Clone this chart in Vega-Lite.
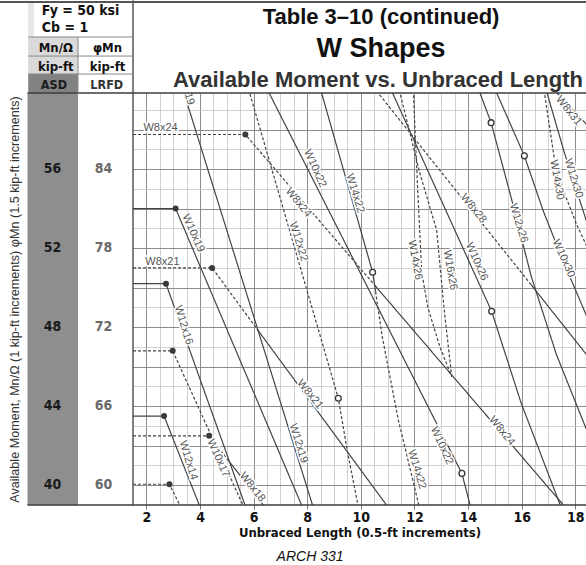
{
"$schema": "https://vega.github.io/schema/vega-lite/v6.json",
"width": 453,
"height": 412,
"autosize": {"type": "none"},
"padding": {"left": 133, "top": 93, "right": 0, "bottom": 60},
"background": "white",
"config": {"view": {"stroke": null}, "font": "Liberation Sans"},
"datasets": {
"curves": [
{"shape":"W12x19","part":"W12x19","rank":"lightest","L":3.0,"M":61.6},
{"shape":"W12x19","part":"W12x19","rank":"lightest","L":8.61,"M":37.2},
{"shape":"W10x19","part":"W10x19","rank":"lightest","L":1.5,"M":54.0},
{"shape":"W10x19","part":"W10x19","rank":"lightest","L":3.09,"M":54.0},
{"shape":"W10x19","part":"W10x19","rank":"lightest","L":8.1,"M":38.0},
{"shape":"W8x21","part":"W8x21 a","rank":"other","L":1.5,"M":51.0},
{"shape":"W8x21","part":"W8x21 a","rank":"other","L":4.45,"M":51.0},
{"shape":"W8x21","part":"W8x21 a","rank":"other","L":6.12,"M":47.92},
{"shape":"W8x21","part":"W8x21 b","rank":"lightest","L":6.12,"M":47.92},
{"shape":"W8x21","part":"W8x21 b","rank":"lightest","L":11.2,"M":38.55},
{"shape":"W12x16","part":"W12x16","rank":"lightest","L":1.5,"M":50.2},
{"shape":"W12x16","part":"W12x16","rank":"lightest","L":2.73,"M":50.2},
{"shape":"W12x16","part":"W12x16","rank":"lightest","L":5.9,"M":38.15},
{"shape":"W10x17","part":"W10x17","rank":"other","L":1.5,"M":46.8},
{"shape":"W10x17","part":"W10x17","rank":"other","L":2.98,"M":46.8},
{"shape":"W10x17","part":"W10x17","rank":"other","L":5.8,"M":38.4},
{"shape":"W8x18","part":"W8x18 a","rank":"other","L":1.5,"M":42.5},
{"shape":"W8x18","part":"W8x18 a","rank":"other","L":4.34,"M":42.5},
{"shape":"W8x18","part":"W8x18 a","rank":"other","L":5.05,"M":41.27},
{"shape":"W8x18","part":"W8x18 b","rank":"lightest","L":5.05,"M":41.27},
{"shape":"W8x18","part":"W8x18 b","rank":"lightest","L":6.6,"M":38.58},
{"shape":"W12x14","part":"W12x14","rank":"lightest","L":1.5,"M":43.5},
{"shape":"W12x14","part":"W12x14","rank":"lightest","L":2.66,"M":43.5},
{"shape":"W12x14","part":"W12x14","rank":"lightest","L":4.05,"M":38.73},
{"shape":"W10x15","part":"W10x15","rank":"other","L":1.5,"M":40.05},
{"shape":"W10x15","part":"W10x15","rank":"other","L":2.86,"M":40.05},
{"shape":"W10x15","part":"W10x15","rank":"other","L":3.3,"M":38.84},
{"shape":"W8x24","part":"W8x24 a","rank":"other","L":1.5,"M":57.75},
{"shape":"W8x24","part":"W8x24 a","rank":"other","L":5.69,"M":57.75},
{"shape":"W8x24","part":"W8x24 a","rank":"other","L":10.55,"M":50.07},
{"shape":"W8x24","part":"W8x24 b","rank":"lightest","L":10.55,"M":50.07},
{"shape":"W8x24","part":"W8x24 b","rank":"lightest","L":17.6,"M":38.93},
{"shape":"W12x22","part":"W12x22","rank":"other","L":5.5,"M":61.5},
{"shape":"W12x22","part":"W12x22","rank":"other","L":9.16,"M":44.4},
{"shape":"W12x22","part":"W12x22","rank":"other","L":9.5,"M":41.7},
{"shape":"W12x22","part":"W12x22","rank":"other","L":9.95,"M":38.6},
{"shape":"W10x22","part":"W10x22","rank":"lightest","L":6.0,"M":61.4},
{"shape":"W10x22","part":"W10x22","rank":"lightest","L":13.77,"M":40.6},
{"shape":"W10x22","part":"W10x22","rank":"lightest","L":14.15,"M":38.6},
{"shape":"W14x22","part":"W14x22 a","rank":"lightest","L":8.0,"M":62.4},
{"shape":"W14x22","part":"W14x22 a","rank":"lightest","L":10.44,"M":50.78},
{"shape":"W14x22","part":"W14x22 a","rank":"lightest","L":10.55,"M":49.8},
{"shape":"W14x22","part":"W14x22 b","rank":"other","L":10.55,"M":49.8},
{"shape":"W14x22","part":"W14x22 b","rank":"other","L":10.8,"M":47.5},
{"shape":"W14x22","part":"W14x22 b","rank":"other","L":11.4,"M":43.3},
{"shape":"W14x22","part":"W14x22 b","rank":"other","L":12.25,"M":38.5},
{"shape":"W8x28","part":"W8x28 a","rank":"other","L":10.0,"M":60.95},
{"shape":"W8x28","part":"W8x28 a","rank":"other","L":16.35,"M":50.15},
{"shape":"W8x28","part":"W8x28 b","rank":"lightest","L":16.35,"M":50.15},
{"shape":"W8x28","part":"W8x28 b","rank":"lightest","L":18.6,"M":46.3},
{"shape":"W10x26","part":"W10x26","rank":"lightest","L":11.0,"M":60.4},
{"shape":"W10x26","part":"W10x26","rank":"lightest","L":14.88,"M":48.8},
{"shape":"W10x26","part":"W10x26","rank":"lightest","L":15.97,"M":44.2},
{"shape":"W10x26","part":"W10x26","rank":"lightest","L":17.55,"M":38.6},
{"shape":"W12x26","part":"W12x26","rank":"lightest","L":14.0,"M":61.45},
{"shape":"W12x26","part":"W12x26","rank":"lightest","L":14.86,"M":58.35},
{"shape":"W12x26","part":"W12x26","rank":"lightest","L":15.6,"M":54.6},
{"shape":"W12x26","part":"W12x26","rank":"lightest","L":16.35,"M":50.6},
{"shape":"W12x26","part":"W12x26","rank":"lightest","L":17.3,"M":46.6},
{"shape":"W12x26","part":"W12x26","rank":"lightest","L":18.6,"M":42.2},
{"shape":"W10x30","part":"W10x30","rank":"lightest","L":14.5,"M":61.6},
{"shape":"W10x30","part":"W10x30","rank":"lightest","L":16.1,"M":56.67},
{"shape":"W10x30","part":"W10x30","rank":"lightest","L":16.8,"M":53.9},
{"shape":"W10x30","part":"W10x30","rank":"lightest","L":17.5,"M":51.5},
{"shape":"W10x30","part":"W10x30","rank":"lightest","L":18.6,"M":48.0},
{"shape":"W12x30","part":"W12x30","rank":"lightest","L":16.7,"M":61.0},
{"shape":"W12x30","part":"W12x30","rank":"lightest","L":17.6,"M":56.8},
{"shape":"W12x30","part":"W12x30","rank":"lightest","L":18.6,"M":52.6},
{"shape":"W14x30","part":"W14x30","rank":"other","L":16.75,"M":61.0},
{"shape":"W14x30","part":"W14x30","rank":"other","L":16.85,"M":59.85},
{"shape":"W14x30","part":"W14x30","rank":"other","L":17.3,"M":55.8},
{"shape":"W14x30","part":"W14x30","rank":"other","L":18.05,"M":53.2},
{"shape":"W14x30","part":"W14x30","rank":"other","L":18.6,"M":51.6},
{"shape":"W8x31","part":"W8x31","rank":"lightest","L":16.8,"M":60.6},
{"shape":"W8x31","part":"W8x31","rank":"lightest","L":18.6,"M":58.0},
{"shape":"W14x26","part":"W14x26","rank":"other","L":11.9,"M":61.0},
{"shape":"W14x26","part":"W14x26","rank":"other","L":11.96,"M":59.85},
{"shape":"W14x26","part":"W14x26","rank":"other","L":12.12,"M":55.0},
{"shape":"W14x26","part":"W14x26","rank":"other","L":12.27,"M":50.8},
{"shape":"W14x26","part":"W14x26","rank":"other","L":12.5,"M":49.0},
{"shape":"W14x26","part":"W14x26","rank":"other","L":12.95,"M":47.0},
{"shape":"W14x26","part":"W14x26","rank":"other","L":13.39,"M":45.5},
{"shape":"W16x26","part":"W16x26","rank":"other","L":11.3,"M":61.0},
{"shape":"W16x26","part":"W16x26","rank":"other","L":11.46,"M":59.85},
{"shape":"W16x26","part":"W16x26","rank":"other","L":12.2,"M":55.8},
{"shape":"W16x26","part":"W16x26","rank":"other","L":12.83,"M":52.9},
{"shape":"W16x26","part":"W16x26","rank":"other","L":13.1,"M":49.0},
{"shape":"W16x26","part":"W16x26","rank":"other","L":13.39,"M":45.5}
],
"limits": [
{"shape":"W8x24","limit":"Lp","L":5.69,"M":57.75},
{"shape":"W10x19","limit":"Lp","L":3.09,"M":54.0},
{"shape":"W8x21","limit":"Lp","L":4.45,"M":51.0},
{"shape":"W12x16","limit":"Lp","L":2.73,"M":50.2},
{"shape":"W10x17","limit":"Lp","L":2.98,"M":46.8},
{"shape":"W12x14","limit":"Lp","L":2.66,"M":43.5},
{"shape":"W8x18","limit":"Lp","L":4.34,"M":42.5},
{"shape":"W10x15","limit":"Lp","L":2.86,"M":40.05},
{"shape":"W14x22","limit":"Lr","L":10.44,"M":50.78},
{"shape":"W12x22","limit":"Lr","L":9.16,"M":44.4},
{"shape":"W10x22","limit":"Lr","L":13.77,"M":40.6},
{"shape":"W10x26","limit":"Lr","L":14.88,"M":48.8},
{"shape":"W12x26","limit":"Lr","L":14.86,"M":58.35},
{"shape":"W10x30","limit":"Lr","L":16.1,"M":56.67}
],
"moment_scale": [
{"asd":40,"lrfd":60},{"asd":44,"lrfd":66},{"asd":48,"lrfd":72},{"asd":52,"lrfd":78},{"asd":56,"lrfd":84}
],
"labels_flat": [
{"shape":"W8x24","L":2.53,"M":58.1},
{"shape":"W8x21","L":2.6,"M":51.28}
],
"labels_w8": [
{"shape":"W8x24","L":7.67,"M":54.3},
{"shape":"W8x24","L":15.26,"M":42.75},
{"shape":"W8x28","L":14.2,"M":54.0},
{"shape":"W8x21","L":8.1,"M":44.6},
{"shape":"W8x18","L":5.95,"M":39.9},
{"shape":"W8x31","L":17.75,"M":58.95}
],
"labels_w10": [
{"shape":"W10x19","L":3.75,"M":52.75},
{"shape":"W10x22","L":8.29,"M":56.03},
{"shape":"W10x22","L":13.02,"M":42.0},
{"shape":"W10x17","L":4.68,"M":41.37},
{"shape":"W10x26","L":14.32,"M":51.31},
{"shape":"W10x30","L":17.56,"M":51.48}
],
"labels_w12": [
{"shape":"W12x16","L":3.38,"M":48.1},
{"shape":"W12x14","L":3.56,"M":41.26},
{"shape":"W12x19","L":7.67,"M":42.12},
{"shape":"W12x19","L":3.44,"M":60.23},
{"shape":"W12x22","L":7.67,"M":52.33},
{"shape":"W14x22","L":9.78,"M":54.77},
{"shape":"W14x22","L":12.09,"M":40.8},
{"shape":"W12x26","L":15.88,"M":53.26},
{"shape":"W12x30","L":17.93,"M":55.53}
],
"labels_steep": [
{"shape":"W14x26","L":12.02,"M":51.4},
{"shape":"W16x26","L":13.33,"M":50.89},
{"shape":"W14x30","L":17.31,"M":55.45}
]
},
"layer": [
{"data":{"values":[{}]},"mark":{"type":"rect","color":"#8e8e8e"},
 "encoding":{"x":{"datum":-2.437,"type":"quantitative","axis":null},"x2":{"datum":-0.552},"y":{"datum":39,"type":"quantitative","axis":null},"y2":{"datum":59.85}}},
{"data":{"values":[{}]},"mark":{"type":"rect","color":"#828282"},
 "encoding":{"x":{"datum":-2.41,"type":"quantitative","axis":null},"x2":{"datum":-0.552},"y":{"datum":59.85,"type":"quantitative","axis":null},"y2":{"datum":60.81}}},
{"data":{"values":[{}]},"mark":{"type":"rect","color":"#dadada"},
 "encoding":{"x":{"datum":-2.41,"type":"quantitative","axis":null},"x2":{"datum":-0.552},"y":{"datum":60.81,"type":"quantitative","axis":null},"y2":{"datum":62.684}}},
{"data":{"values":[{}]},"mark":{"type":"rect","color":"#e6e6e6"},
 "encoding":{"x":{"datum":-2.41,"type":"quantitative","axis":null},"x2":{"datum":-2.2},"y":{"datum":62.684,"type":"quantitative","axis":null},"y2":{"datum":64.455}}},
{"data":{"name":"curves"},
 "mark":{"type":"line","clip":true,"color":"#444444","strokeWidth":1.2},
 "encoding":{
  "x":{"field":"L","type":"quantitative","scale":{"domain":[1.5,18.4],"nice":false,"zero":false},
   "axis":{"orient":"bottom","values":[2,4,6,8,10,12,14,16,18],"grid":true,"gridColor":"#8c8c8c","gridWidth":1,"domain":false,"ticks":true,"tickSize":4,"tickColor":"#777777","labelFont":"Liberation Sans Narrow, Arial Narrow, DejaVu Sans Condensed, sans-serif","labelFontSize":14,"labelFontWeight":"bold","labelColor":"#111111","labelPadding":1,"title":"Unbraced Length (0.5-ft increments)","titleFont":"Liberation Sans Narrow, Arial Narrow, DejaVu Sans Condensed, sans-serif","titleFontSize":13,"titleFontWeight":"bold","titleColor":"#111111","titlePadding":2}},
  "y":{"field":"M","type":"quantitative","scale":{"domain":[39,59.85],"nice":false,"zero":false},
   "axis":{"orient":"left","values":[40,42,44,46,48,50,52,54,56,58],"grid":true,"gridColor":"#8c8c8c","gridWidth":1,"domain":false,"ticks":false,"labels":false,"title":"Available Moment, Mn/Ω (1 kip-ft increments) φMn (1.5 kip-ft increments)","titleX":-119,"titleY":206,"titleAngle":270,"titleAlign":"center","titleBaseline":"middle","titleFont":"Liberation Sans","titleFontSize":12.6,"titleFontWeight":"normal","titleColor":"#333333"}},
  "detail":{"field":"part"},
  "strokeDash":{"field":"rank","type":"nominal","scale":{"domain":["lightest","other"],"range":[[1,0],[3,2]]},"legend":null}
 }},
{"data":{"name":"labels_flat"},"mark":{"type":"text","clip":true,"fill":"white","stroke":"white","strokeWidth":3,"fontSize":11,"angle":0},
 "encoding":{"x":{"field":"L","type":"quantitative","axis":null},"y":{"field":"M","type":"quantitative","axis":null},"text":{"field":"shape"}}},
{"data":{"name":"labels_flat"},"mark":{"type":"text","clip":true,"fill":"#555555","color":"#555555","fontSize":11,"angle":0},
 "encoding":{"x":{"field":"L","type":"quantitative","axis":null},"y":{"field":"M","type":"quantitative","axis":null},"text":{"field":"shape"}}},
{"data":{"name":"labels_w8"},"mark":{"type":"text","clip":true,"fill":"white","stroke":"white","strokeWidth":3,"fontSize":11,"angle":51},
 "encoding":{"x":{"field":"L","type":"quantitative","axis":null},"y":{"field":"M","type":"quantitative","axis":null},"text":{"field":"shape"}}},
{"data":{"name":"labels_w8"},"mark":{"type":"text","clip":true,"fill":"#555555","color":"#555555","fontSize":11,"angle":51},
 "encoding":{"x":{"field":"L","type":"quantitative","axis":null},"y":{"field":"M","type":"quantitative","axis":null},"text":{"field":"shape"}}},
{"data":{"name":"labels_w10"},"mark":{"type":"text","clip":true,"fill":"white","stroke":"white","strokeWidth":3,"fontSize":11,"angle":66},
 "encoding":{"x":{"field":"L","type":"quantitative","axis":null},"y":{"field":"M","type":"quantitative","axis":null},"text":{"field":"shape"}}},
{"data":{"name":"labels_w10"},"mark":{"type":"text","clip":true,"fill":"#555555","color":"#555555","fontSize":11,"angle":66},
 "encoding":{"x":{"field":"L","type":"quantitative","axis":null},"y":{"field":"M","type":"quantitative","axis":null},"text":{"field":"shape"}}},
{"data":{"name":"labels_w12"},"mark":{"type":"text","clip":true,"fill":"white","stroke":"white","strokeWidth":3,"fontSize":11,"angle":73},
 "encoding":{"x":{"field":"L","type":"quantitative","axis":null},"y":{"field":"M","type":"quantitative","axis":null},"text":{"field":"shape"}}},
{"data":{"name":"labels_w12"},"mark":{"type":"text","clip":true,"fill":"#555555","color":"#555555","fontSize":11,"angle":73},
 "encoding":{"x":{"field":"L","type":"quantitative","axis":null},"y":{"field":"M","type":"quantitative","axis":null},"text":{"field":"shape"}}},
{"data":{"name":"labels_steep"},"mark":{"type":"text","clip":true,"fill":"white","stroke":"white","strokeWidth":3,"fontSize":11,"angle":80},
 "encoding":{"x":{"field":"L","type":"quantitative","axis":null},"y":{"field":"M","type":"quantitative","axis":null},"text":{"field":"shape"}}},
{"data":{"name":"labels_steep"},"mark":{"type":"text","clip":true,"fill":"#555555","color":"#555555","fontSize":11,"angle":80},
 "encoding":{"x":{"field":"L","type":"quantitative","axis":null},"y":{"field":"M","type":"quantitative","axis":null},"text":{"field":"shape"}}},
{"data":{"name":"limits"},"transform":[{"filter":"datum.limit == 'Lp'"}],
 "mark":{"type":"circle","size":36,"color":"#3a3a3a","opacity":1},
 "encoding":{
  "x":{"field":"L","type":"quantitative",
   "axis":{"orient":"bottom","values":[2.5,3,3.5,4.5,5,5.5,6.5,7,7.5,8.5,9,9.5,10.5,11,11.5,12.5,13,13.5,14.5,15,15.5,16.5,17,17.5],"grid":true,"gridColor":"#c4c4c4","gridWidth":0.8,"domain":false,"ticks":false,"labels":false,"title":null}},
  "y":{"field":"M","type":"quantitative",
   "axis":{"orient":"left","values":[41,43,45,47,49,51,53,55,57,59],"grid":true,"gridColor":"#c4c4c4","gridWidth":0.8,"domain":false,"ticks":false,"labels":false,"title":null}}
 }},
{"data":{"name":"limits"},"transform":[{"filter":"datum.limit == 'Lr'"}],
 "mark":{"type":"circle","size":34,"fill":"white","stroke":"#333333","strokeWidth":1.3,"opacity":1},
 "encoding":{"x":{"field":"L","type":"quantitative","axis":null},"y":{"field":"M","type":"quantitative","axis":null}}},
{"data":{"values":[{}]},"mark":{"type":"rule","color":"#3d3d3d","strokeWidth":1.5},
 "encoding":{"x":{"datum":-2.437,"type":"quantitative","axis":null},"x2":{"datum":18.4},"y":{"datum":59.85,"type":"quantitative","axis":null}}},
{"data":{"values":[{}]},"mark":{"type":"rule","color":"#3d3d3d","strokeWidth":1.3},
 "encoding":{"x":{"datum":-2.437,"type":"quantitative","axis":null},"x2":{"datum":18.4},"y":{"datum":39,"type":"quantitative","axis":null}}},
{"data":{"values":[{}]},"mark":{"type":"rule","color":"#3d3d3d","strokeWidth":1.3},
 "encoding":{"x":{"datum":1.5,"type":"quantitative","axis":null},"y":{"datum":39,"type":"quantitative","axis":null},"y2":{"datum":64.55}}},
{"data":{"values":[{}]},"mark":{"type":"rule","color":"#555555","strokeWidth":2},
 "encoding":{"x":{"datum":-4.97,"type":"quantitative","axis":null},"x2":{"datum":18.4},"y":{"datum":64.455,"type":"quantitative","axis":null}}},
{"data":{"values":[{}]},"mark":{"type":"rule","color":"#888888","strokeWidth":1},
 "encoding":{"x":{"datum":-2.41,"type":"quantitative","axis":null},"x2":{"datum":1.5},"y":{"datum":62.684,"type":"quantitative","axis":null}}},
{"data":{"values":[{}]},"mark":{"type":"rule","color":"#888888","strokeWidth":1},
 "encoding":{"x":{"datum":-2.41,"type":"quantitative","axis":null},"x2":{"datum":1.5},"y":{"datum":61.72,"type":"quantitative","axis":null}}},
{"data":{"values":[{}]},"mark":{"type":"rule","color":"#888888","strokeWidth":1},
 "encoding":{"x":{"datum":-2.41,"type":"quantitative","axis":null},"x2":{"datum":1.5},"y":{"datum":60.81,"type":"quantitative","axis":null}}},
{"data":{"values":[{}]},"mark":{"type":"rule","color":"#888888","strokeWidth":1},
 "encoding":{"x":{"datum":-0.552,"type":"quantitative","axis":null},"y":{"datum":59.85,"type":"quantitative","axis":null},"y2":{"datum":62.684}}},
{"data":{"name":"moment_scale"},"mark":{"type":"text","font":"Liberation Sans Narrow, Arial Narrow, DejaVu Sans Condensed, sans-serif","fontSize":14,"fontWeight":"bold","color":"#1a1a1a","align":"center","baseline":"middle"},
 "encoding":{"x":{"datum":-1.5,"type":"quantitative","axis":null},"y":{"field":"asd","type":"quantitative","axis":null},"text":{"field":"asd"}}},
{"data":{"name":"moment_scale"},"mark":{"type":"text","font":"Liberation Sans Narrow, Arial Narrow, DejaVu Sans Condensed, sans-serif","fontSize":14,"fontWeight":"bold","color":"#6a6a6a","align":"center","baseline":"middle"},
 "encoding":{"x":{"datum":0.4,"type":"quantitative","axis":null},"y":{"field":"asd","type":"quantitative","axis":null},"text":{"field":"lrfd"}}},
{"data":{"values":[{"t":"Table 3–10 (continued)"}]},"mark":{"type":"text","fontSize":22,"fontWeight":"bold","color":"#111111","align":"center","baseline":"alphabetic"},
 "encoding":{"x":{"datum":10.754,"type":"quantitative","axis":null},"y":{"datum":63.367,"type":"quantitative","axis":null},"text":{"field":"t"}}},
{"data":{"values":[{"t":"W Shapes"}]},"mark":{"type":"text","fontSize":27,"fontWeight":"bold","color":"#111111","align":"center","baseline":"alphabetic"},
 "encoding":{"x":{"datum":10.754,"type":"quantitative","axis":null},"y":{"datum":61.67,"type":"quantitative","axis":null},"text":{"field":"t"}}},
{"data":{"values":[{"t":"Available Moment vs. Unbraced Length"}]},"mark":{"type":"text","fontSize":22,"fontWeight":"bold","color":"#333333","align":"center","baseline":"alphabetic"},
 "encoding":{"x":{"datum":10.64,"type":"quantitative","axis":null},"y":{"datum":60.15,"type":"quantitative","axis":null},"text":{"field":"t"}}},
{"data":{"values":[{"t":"Fy = 50 ksi"}]},"mark":{"type":"text","font":"Liberation Sans Narrow, Arial Narrow, DejaVu Sans Condensed, sans-serif","fontSize":14,"fontWeight":"bold","color":"#111111","align":"left","baseline":"alphabetic"},
 "encoding":{"x":{"datum":-1.9,"type":"quantitative","axis":null},"y":{"datum":63.8,"type":"quantitative","axis":null},"text":{"field":"t"}}},
{"data":{"values":[{"t":"Cb = 1"}]},"mark":{"type":"text","font":"Liberation Sans Narrow, Arial Narrow, DejaVu Sans Condensed, sans-serif","fontSize":14,"fontWeight":"bold","color":"#111111","align":"left","baseline":"alphabetic"},
 "encoding":{"x":{"datum":-1.9,"type":"quantitative","axis":null},"y":{"datum":62.95,"type":"quantitative","axis":null},"text":{"field":"t"}}},
{"data":{"values":[{"t":"Mn/Ω"}]},"mark":{"type":"text","font":"Liberation Sans Narrow, Arial Narrow, DejaVu Sans Condensed, sans-serif","fontSize":13,"fontWeight":"bold","color":"#111111","align":"center","baseline":"alphabetic"},
 "encoding":{"x":{"datum":-1.38,"type":"quantitative","axis":null},"y":{"datum":61.925,"type":"quantitative","axis":null},"text":{"field":"t"}}},
{"data":{"values":[{"t":"φMn"}]},"mark":{"type":"text","font":"Liberation Sans Narrow, Arial Narrow, DejaVu Sans Condensed, sans-serif","fontSize":13,"fontWeight":"bold","color":"#111111","align":"center","baseline":"alphabetic"},
 "encoding":{"x":{"datum":0.55,"type":"quantitative","axis":null},"y":{"datum":61.925,"type":"quantitative","axis":null},"text":{"field":"t"}}},
{"data":{"values":[{"t":"kip-ft"}]},"mark":{"type":"text","font":"Liberation Sans Narrow, Arial Narrow, DejaVu Sans Condensed, sans-serif","fontSize":13,"fontWeight":"bold","color":"#111111","align":"center","baseline":"alphabetic"},
 "encoding":{"x":{"datum":-1.38,"type":"quantitative","axis":null},"y":{"datum":60.96,"type":"quantitative","axis":null},"text":{"field":"t"}}},
{"data":{"values":[{"t":"kip-ft"}]},"mark":{"type":"text","font":"Liberation Sans Narrow, Arial Narrow, DejaVu Sans Condensed, sans-serif","fontSize":13,"fontWeight":"bold","color":"#111111","align":"center","baseline":"alphabetic"},
 "encoding":{"x":{"datum":0.55,"type":"quantitative","axis":null},"y":{"datum":60.96,"type":"quantitative","axis":null},"text":{"field":"t"}}},
{"data":{"values":[{"t":"ASD"}]},"mark":{"type":"text","font":"Liberation Sans Narrow, Arial Narrow, DejaVu Sans Condensed, sans-serif","fontSize":12.5,"fontWeight":"bold","color":"#1a1a1a","align":"center","baseline":"alphabetic"},
 "encoding":{"x":{"datum":-1.45,"type":"quantitative","axis":null},"y":{"datum":60.05,"type":"quantitative","axis":null},"text":{"field":"t"}}},
{"data":{"values":[{"t":"LRFD"}]},"mark":{"type":"text","font":"Liberation Sans Narrow, Arial Narrow, DejaVu Sans Condensed, sans-serif","fontSize":12.5,"fontWeight":"bold","color":"#333333","align":"center","baseline":"alphabetic"},
 "encoding":{"x":{"datum":0.52,"type":"quantitative","axis":null},"y":{"datum":60.05,"type":"quantitative","axis":null},"text":{"field":"t"}}},
{"data":{"values":[{"t":"ARCH 331"}]},"mark":{"type":"text","fontSize":14,"fontStyle":"italic","color":"#111111","align":"center","baseline":"middle"},
 "encoding":{"x":{"datum":8.105,"type":"quantitative","axis":null},"y":{"datum":36.37,"type":"quantitative","axis":null},"text":{"field":"t"}}}
],
"resolve":{"axis":{"x":"independent","y":"independent"}}
}
